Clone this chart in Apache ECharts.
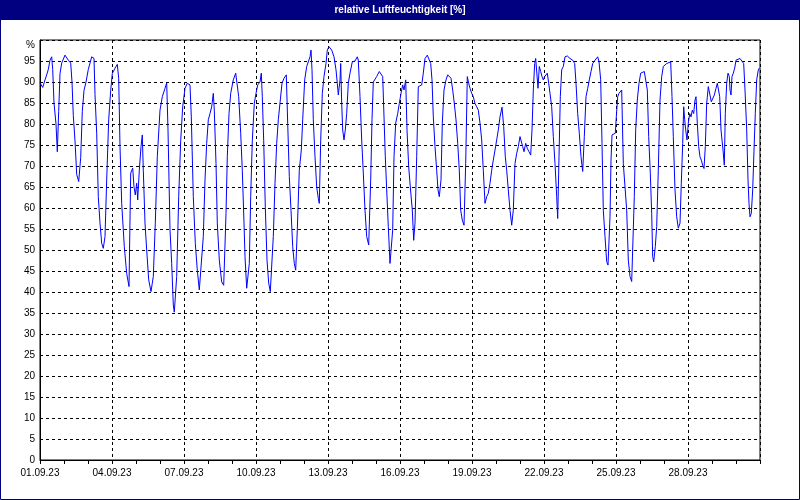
<!DOCTYPE html>
<html><head><meta charset="utf-8">
<script src="https://cdn.jsdelivr.net/npm/echarts@6/dist/echarts.min.js"></script>
<style>html,body{margin:0;padding:0;background:#fff}#c{width:800px;height:500px}</style>
</head><body><div id="c"></div>
<script>
// hours since 01.09.23 00:00
const hours = [0,2.7,5,6.7,8.3,10,11.7,12.7,14,16,17.3,18.7,20,21.7,25,28.3,30.7,32,33.3,35,36.7,38.7,40.7,42.3,44,46,48.3,51.7,54,55,56.7,58.3,60,61.7,63.3,65,66.7,68.7,70.7,72.3,75,77.3,78.7,80,81.7,84.3,86.7,89,90.7,92.7,94,95.3,96.7,97.7,99.3,101,102.3,103.3,105,106.7,108.7,111,113.3,115.3,117.3,120,122.3,125,126.7,128,130,131.7,133.3,134.3,136.7,138.7,140.7,142.7,145,147.3,150,151.3,153.3,155.3,157.3,159.3,161.3,163.3,165,166.7,168.3,170,171.7,173.3,174.3,176,177.3,179.3,181.7,183.7,
186,187.3,189,190.7,193.3,195.7,197.3,198.7,200.7,202.3,204,205,206.7,207.7,209.3,210.7,212.3,214.3,216,217.7,220,221.3,222.3,223.7,225.3,227,228.7,230.3,231.7,233.3,235,236.7,238.3,240.3,242,244,246.3,247.7,249.3,251,252.7,254.3,255.7,257.3,259.3,261.3,262.7,264.7,266.7,268.3,270,271,272,273.3,275,276.7,278.3,279.3,280.7,282.3,284,286,287.3,289,291.7,294,296,297.3,298.3,300,300.7,301.7,302.7,304,305.3,306.7,308.3,310,312.3,315,317.3,318.3,320,321.7,323.3,325,326.7,328.7,330.7,332,333.3,335,336.7,339.3,341.3,342.7,344,345.3,346.7,348.3,350,351.3,352.7,354,355.7,357.7,359.3,361,362.7,364,365.7,367,368.7,370.3,372.3,373.7,
375,376.7,378.3,380,381.7,383.3,385,387.3,389.3,390.7,392,393.3,395,396.7,398,399.3,401,402.3,404,406,407.7,409.3,411,412.7,414.3,416,417.7,419.3,420.7,422.3,424,425.7,427.3,428.7,430,431.7,433.3,435,436.7,438.3,440,441.7,443.3,445,446.7,448.3,450,451.7,453.3,455,456.7,458.3,460,462,463.7,465.3,466.7,468.3,470,471.7,473.3,475,476.7,478.3,480,481.3,482.7,484,485.7,487.3,489,490.7,492,493.3,494.7,495.7,497,498,499.3,500.7,502,503.3,504.7,506,507.3,508.7,510,511.7,513.3,515,516.7,517.7,519,520.3,521.7,523.3,525,527.3,530,532.7,534.7,536,537.7,539.3,541,542.7,544.3,546,547.7,549.3,551,552.7,555,557.7,559,560.7,562,563.3,565,566.7,568,
570,571,572,574,575.3,576.3,577.7,579,580.7,581.7,583.3,585,586.7,588.3,590,591.7,593,594.3,595.7,597.3,599,600.7,602.3,604.3,606,607.3,608.7,610.3,611.7,612.7,613.7,615.3,616.7,618.3,620,621.7,623.3,625,626.7,628.7,630.7,632,633.3,635,636.7,638.3,640,641.3,642.7,643.7,644.7,645.7,647,648.3,649.7,651,652.3,653.7,655,656,657.3,658.7,660,661.3,662.7,664,665.3,666.7,668.3,670,671.3,672.7,674.3,676,677.3,678.7,679.7,681,682,683,684.3,685.3,686.7,688,689.3,690,691,692,693.3,694.7,696,698,700,702,703.7,705,706.7,708,709,710,711.3,712.7,714,715.3,716.7,718.3,719.3];
const humidity = [89.8,88.7,90.5,91.7,93,95.2,96,93,85,80,73.4,83,92,94.5,96.4,95.2,94.5,90,82,76,68,66.3,72,83,88,90,93,96,95.6,87,77.8,62.7,56.4,51.6,50.4,53.2,66.7,81,88,92,93.3,94.2,90.9,74.6,61.1,50.8,44.4,41.3,68.3,69.5,65,63.1,65.9,61.9,69,74.6,77.4,69,56.4,50,42.9,40.1,43.7,56.4,72.2,83.3,86.5,88.5,89.8,78.6,54.8,46.8,36.9,35.2,43.7,62.7,76,84.1,88.5,89.7,89.3,81.7,62.7,51.6,45.2,40.5,40.1,53.2,66.7,75.4,81,82.5,84.1,87.3,83.3,70.6,56.4,47.6,42.4,41.6,
58.7,72.2,82.5,87.3,90.5,92.1,92.5,86.5,77.8,69,56.4,48.4,40.9,40.5,46.8,62.7,76,84.9,87.3,89.3,90,92.1,86.5,76,60.2,47.6,42.1,40.1,39.7,53.2,65.9,75.4,81,85.7,89.7,90.9,91.7,80.2,67.5,59.5,50.8,46.8,45.2,54.8,69,73.8,81,90.5,93.7,93.3,96,97.6,92.9,81,72.2,65,62.3,61.1,76,87.3,91.3,94.4,97.6,98.4,97.6,96,92.9,89.7,86.9,90.5,94.4,84.9,78.6,76.2,78.6,82.5,89.7,92.1,94.8,95,96,95.2,86.5,76.2,68.3,59.5,53.2,51.2,66.7,81,90,89.7,91.3,92.5,92.9,91.3,81.7,72.2,64.3,55.6,46.8,46.8,54.8,72.2,80.2,82.5,84.9,87.3,89.3,88.1,90.5,78.6,69.8,65,59.5,52.3,
56.4,72.2,88.9,88.9,89.3,92.1,95.6,96.4,96.4,94.4,90.5,81.7,74.6,69,64.3,62.7,66.7,80.2,88.1,90.5,91.7,92.1,90.9,88.1,84.9,81,75.4,69,59.5,57.1,55.9,70.6,91.3,89.7,88.5,87.3,86.5,84.9,84.1,83.3,80.2,76.2,69,61.1,62.7,63.5,65.9,69,71.4,73.8,76.2,78.6,81.7,84,79.4,72.2,69,64.3,59.5,55.9,59.5,70.6,73,74.6,77,77.4,74.6,73.4,75.4,74.2,73.4,72.6,78.6,88.1,94.4,95.6,95.2,88.5,93.7,92.5,91.3,90.5,91.3,90.9,92.1,89.7,87.3,84.1,77,70.6,62.7,57.5,72.2,86.5,92.9,93.7,96,96.2,95.6,95.2,94.4,89.7,82.5,77.8,72.2,68.7,77,86.5,88.5,90.5,92.5,94.4,95.2,96,94.8,90.5,75.4,59.5,53.2,47.2,46.4,
57.9,71.4,77.4,77.4,77.8,81.7,86.5,87.3,87.3,88.1,70.6,65,59.5,47.6,43.7,42.5,42.1,62.7,78.6,85.7,89.7,92.1,92.5,92.5,92.1,88.1,77,68.3,58.7,48.4,47.2,50.8,55.6,69,85.7,91.3,93.7,93.7,94.4,94.8,94.8,86.5,77,64.3,57.9,55.2,56.4,65.9,75.4,84.1,81,78.6,76.2,80.2,82.5,81.7,83.3,82.5,85.7,86.5,80.2,74.6,72.2,71.4,70.2,69.4,74.6,84.9,88.9,88.5,85.3,85.7,86.9,88.5,89.7,90.1,86.5,78.6,76.2,73.8,70.2,82.5,89.7,92.1,91.3,88.1,86.9,91.3,92.1,93.3,95.2,95.6,95.6,96,94.4,88.1,78.6,66.7,61.1,57.9,58.7,64.3,73.8,82.5,90.5,92.9,93.3];
const titleText = 'relative Luftfeuchtigkeit [%]';
const xMaxHours = 720;

const chart = echarts.init(document.getElementById('c'), null, {renderer: 'canvas'});
const pts = hours.map((h, i) => [h, humidity[i]]);
const fontFam = 'Liberation Sans, Arial, sans-serif';
function fmtDate(h) {
  if (h >= xMaxHours) return '';
  const d = 1 + Math.round(h / 24);
  return (d < 10 ? '0' + d : '' + d) + '.09.23';
}
chart.setOption({
  animation: false,
  backgroundColor: '#ffffff',
  graphic: [
    {type: 'rect', shape: {x: 0, y: 0, width: 800, height: 20}, style: {fill: '#000080'}, z: 10},
    {type: 'rect', shape: {x: 0.5, y: 0.5, width: 799, height: 499}, style: {fill: 'none', stroke: '#000080', lineWidth: 1}, z: 10},
    {type: 'text', x: 400, y: 10, style: {text: titleText, fill: '#fff', font: 'bold 10px ' + fontFam, textAlign: 'center', textVerticalAlign: 'middle'}, z: 11}
  ],
  grid: {left: 40, right: 40, top: 40, bottom: 40, show: true, borderColor: '#000', borderWidth: 1, backgroundColor: '#fff'},
  xAxis: {
    type: 'value', min: 0, max: xMaxHours, interval: 72,
    axisLine: {show: true, lineStyle: {color: '#000', width: 1}},
    axisTick: {show: true, length: 4, lineStyle: {color: '#000'}},
    minorTick: {show: true, splitNumber: 3, length: 4, lineStyle: {color: '#000'}},
    splitLine: {show: true, lineStyle: {color: '#000', type: [3, 3], width: 1}},
    axisLabel: {color: '#000', fontSize: 10, fontFamily: fontFam, margin: 8, formatter: fmtDate, showMaxLabel: false}
  },
  yAxis: {
    type: 'value', min: 0, max: 100, interval: 5,
    axisLine: {show: true, lineStyle: {color: '#000', width: 1}},
    axisTick: {show: false},
    splitLine: {show: true, lineStyle: {color: '#000', type: [3, 3], width: 1}},
    axisLabel: {color: '#000', fontSize: 10, fontFamily: fontFam, margin: 5,
      formatter: v => v === 100 ? '{p|%}' : String(v),
      rich: {p: {color: '#000', fontSize: 10, fontFamily: fontFam, padding: [10, 0, 0, 0]}}}
  },
  series: [{
    type: 'line', data: pts, showSymbol: false, symbol: 'none',
    lineStyle: {color: '#0000ff', width: 1}, itemStyle: {color: '#0000ff'}
  }]
});
</script></body></html>
